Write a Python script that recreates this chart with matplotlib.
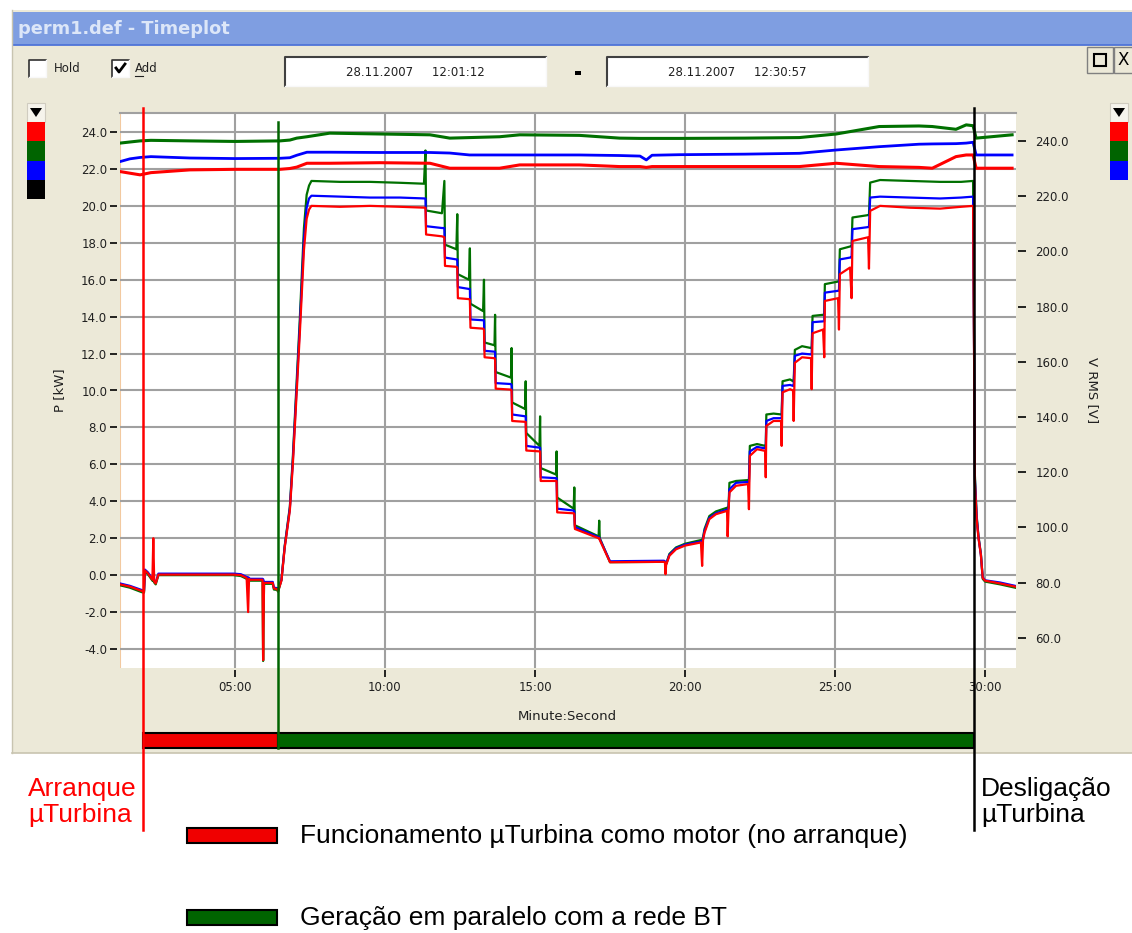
import matplotlib
matplotlib.use('Agg')
import matplotlib.pyplot as plt
from matplotlib.patches import Rectangle, Polygon
from matplotlib.lines import Line2D
from matplotlib.transforms import blended_transform_factory

# ---------------- data ----------------
# power traces (kW), time in minutes since 12:00:00
t_p = [1.17, 1.50, 1.89, 1.97, 2.00, 2.10, 2.25, 2.28, 2.31, 2.36, 2.45, 4.95, 5.20, 5.39, 5.44, 5.47,
       5.50, 5.92, 5.94, 5.97, 6.26, 6.30, 6.40, 6.44, 6.55, 6.66, 6.83, 6.93, 7.03, 7.16, 7.22, 7.30,
       7.39, 7.47, 7.55, 8.50, 9.50, 10.50, 11.30, 11.35, 11.37, 11.90, 11.98, 12.00, 12.38, 12.41,
       12.43, 12.80, 12.83, 12.85, 13.27, 13.30, 13.32, 13.65, 13.67, 13.69, 14.20, 14.22, 14.24,
       14.67, 14.69, 14.71, 15.15, 15.17, 15.19, 15.70, 15.72, 15.74, 16.29, 16.31, 16.33, 17.12,
       17.14, 17.16, 17.50, 19.30, 19.33, 19.35, 19.37, 19.48, 19.70, 20.00, 20.53, 20.57, 20.60,
       20.65, 20.81, 21.03, 21.40, 21.42, 21.45, 21.48, 21.70, 22.10, 22.13, 22.16, 22.40, 22.67,
       22.69, 22.71, 22.95, 23.20, 23.22, 23.25, 23.50, 23.60, 23.62, 23.66, 23.90, 24.20, 24.22,
       24.25, 24.60, 24.64, 24.66, 25.10, 25.13, 25.16, 25.50, 25.55, 25.58, 26.10, 26.13, 26.17,
       26.50, 27.50, 28.50, 29.20, 29.60, 29.66, 29.72, 29.78, 29.86, 29.92, 30.00, 30.50, 31.00]
p_red = [-0.50, -0.62, -0.85, -0.90, 0.25, 0.10, -0.25, 2.00, -0.35, -0.45, 0.03, 0.03, 0.00, -0.15, -2.00, -0.20,
         -0.25, -0.25, -4.60, -0.42, -0.42, -0.72, -0.75, -0.85, -0.30, 1.50, 3.50, 6.00, 9.00, 13.00, 15.00, 17.60,
         19.30, 19.80, 20.00, 19.95, 20.00, 19.95, 19.90, 19.90, 18.45, 18.35, 18.30, 16.75, 16.70, 16.65,
         15.00, 14.95, 14.90, 13.40, 13.35, 13.30, 11.80, 11.75, 11.70, 10.10, 10.05, 10.00, 8.35,
         8.30, 8.30, 6.75, 6.70, 6.70, 5.10, 5.10, 5.10, 3.40, 3.35, 3.30, 2.50, 2.00,
         2.00, 1.90, 0.70, 0.72, 0.70, 0.05, 0.55, 1.05, 1.40, 1.60, 1.77, 0.50, 1.90,
         2.30, 3.03, 3.30, 3.48, 2.10, 3.50, 4.48, 4.84, 4.93, 3.57, 6.46, 6.82, 6.73,
         5.30, 8.08, 8.35, 8.35, 7.00, 9.90, 10.07, 10.00, 8.35, 11.50, 11.80, 11.75, 10.07,
         13.10, 13.30, 11.80, 14.85, 15.00, 13.30, 16.30, 16.66, 15.00, 18.10, 18.30, 16.60, 19.73,
         20.00, 19.90, 19.85, 19.95, 20.00, 5.00, 3.00, 2.00, 1.10, -0.15, -0.30, -0.45, -0.62]
p_blue = [-0.45, -0.58, -0.80, -0.85, 0.30, 0.15, -0.20, -0.20, -0.30, -0.40, 0.08, 0.08, 0.05, -0.10, -0.12, -0.15,
          -0.20, -0.20, -0.22, -0.37, -0.37, -0.68, -0.70, -0.80, -0.25, 1.55, 3.60, 6.20, 9.30, 13.40, 15.50, 18.20,
          19.90, 20.40, 20.55, 20.50, 20.45, 20.45, 20.40, 20.40, 18.90, 18.80, 18.80, 17.20, 17.10, 17.10,
          15.60, 15.50, 15.50, 13.85, 13.80, 13.80, 12.15, 12.10, 12.10, 10.40, 10.35, 10.30, 8.70,
          8.60, 8.60, 7.00, 6.90, 6.90, 5.30, 5.25, 5.25, 3.60, 3.50, 3.45, 2.60, 2.05,
          2.05, 1.95, 0.75, 0.78, 0.75, 0.70, 0.60, 1.10, 1.45, 1.65, 1.82, 1.80, 1.95,
          2.40, 3.10, 3.35, 3.55, 3.55, 3.60, 4.65, 5.00, 5.05, 5.05, 6.70, 6.95, 6.86,
          6.86, 8.35, 8.50, 8.50, 8.50, 10.25, 10.30, 10.25, 10.25, 11.88, 12.00, 11.95, 11.95,
          13.70, 13.75, 13.75, 15.30, 15.40, 15.40, 17.10, 17.20, 17.20, 18.74, 18.85, 18.85, 20.45,
          20.50, 20.45, 20.40, 20.45, 20.50, 5.20, 3.10, 2.05, 1.10, -0.12, -0.28, -0.40, -0.58]
p_green = [-0.55, -0.68, -0.92, -0.95, 0.20, 0.05, -0.30, -0.30, -0.40, -0.50, 0.00, 0.00, -0.05, -0.20, -0.22, -0.25,
           -0.30, -0.30, -4.65, -0.47, -0.47, -0.78, -0.80, -0.90, -0.25, 1.60, 3.70, 6.40, 9.60, 13.80, 16.00, 18.80,
           20.60, 21.10, 21.35, 21.30, 21.30, 21.25, 21.20, 23.00, 19.75, 19.60, 21.35, 17.90, 17.65, 19.55,
           16.30, 16.00, 17.70, 14.70, 14.30, 16.00, 12.60, 12.45, 14.10, 11.00, 10.70, 12.30, 9.35,
           9.00, 10.50, 7.70, 7.00, 8.60, 5.80, 5.45, 6.70, 4.20, 3.60, 4.75, 2.70, 2.10,
           2.95, 2.00, 0.70, 0.72, 0.70, 0.60, 0.60, 1.15, 1.50, 1.70, 1.90, 1.90, 2.05,
           2.50, 3.20, 3.45, 3.65, 3.65, 3.70, 5.00, 5.10, 5.15, 5.15, 7.00, 7.10, 7.00,
           7.00, 8.70, 8.75, 8.70, 8.70, 10.50, 10.60, 10.50, 10.50, 12.20, 12.40, 12.30, 12.30,
           14.04, 14.10, 14.10, 15.76, 15.90, 15.90, 17.65, 17.80, 17.80, 19.37, 19.50, 19.50, 21.26,
           21.40, 21.35, 21.30, 21.30, 21.35, 5.40, 3.20, 2.10, 1.15, -0.20, -0.35, -0.50, -0.68]

# RMS voltage traces (V)
t_v = [1.17, 1.50, 1.84, 2.20, 3.50, 5.00, 6.50, 6.83, 7.06, 7.40, 8.16, 9.83, 11.50, 12.16, 12.82,
       13.82, 14.49, 16.48, 17.82, 18.50, 18.71, 18.90, 19.81, 22.00, 23.81, 25.04, 26.47, 27.80,
       28.24, 29.03, 29.37, 29.60, 29.70, 30.90]
v_red = [228.9, 228.3, 227.7, 228.5, 229.5, 229.7, 229.7, 230.0, 230.5, 231.9, 231.9, 232.1, 231.9, 230.1, 230.1,
         230.1, 231.3, 231.3, 230.7, 230.7, 230.4, 230.7, 230.7, 230.7, 230.7, 231.9, 230.7, 230.4,
         230.1, 234.3, 234.9, 234.9, 230.1, 230.1]
v_blue = [232.5, 233.5, 234.0, 234.3, 233.8, 233.6, 233.7, 233.9, 234.8, 235.9, 235.9, 235.8, 235.8, 235.6, 234.9,
          234.9, 234.9, 234.9, 234.7, 234.5, 233.1, 234.8, 235.0, 235.2, 235.5, 236.7, 237.9, 238.8,
          238.9, 239.0, 239.2, 239.5, 234.9, 234.9]
v_green = [239.2, 239.6, 240.0, 240.2, 240.0, 239.8, 240.0, 240.3, 241.0, 241.5, 242.8, 242.5, 242.2, 241.0, 241.2,
           241.5, 242.2, 242.0, 241.0, 240.9, 240.9, 240.9, 240.9, 241.0, 241.2, 242.5, 245.2, 245.4,
           245.2, 244.2, 245.8, 245.5, 241.0, 242.2]

events = [1.94, 6.43, 29.63]          # start, grid connection, shutdown (min)
p_ticks = [-4, -2, 0, 2, 4, 6, 8, 10, 12, 14, 16, 18, 20, 22, 24]
v_ticks = [60, 80, 100, 120, 140, 160, 180, 200, 220, 240]
x_ticks = [5, 10, 15, 20, 25, 30]
x_tick_labels = ['05:00', '10:00', '15:00', '20:00', '25:00', '30:00']

# ---------------- figure ----------------
W, H = 1132, 933
fig = plt.figure(figsize=(W / 100, H / 100), dpi=100)
fig.patch.set_facecolor('white')
BEIGE = '#ECE9D8'
RED = '#FF0000'
BLUE = '#0000FF'
GREEN = '#007000'


def FX(x):
    return x / W


def FY(y):
    return 1 - y / H


def frect(x0, y0, x1, y1, z=-5, **kw):
    r = Rectangle((FX(x0), FY(y1)), (x1 - x0) / W, (y1 - y0) / H,
                  transform=fig.transFigure, zorder=z, **kw)
    fig.add_artist(r)
    return r


def fline(xs, ys, z=-4, **kw):
    ln = Line2D([FX(x) for x in xs], [FY(y) for y in ys], transform=fig.transFigure, zorder=z, **kw)
    fig.add_artist(ln)
    return ln


# window
frect(12, 10, 1132, 753, z=-10, facecolor=BEIGE, edgecolor='none')
fline([12, 12], [10, 753], color='#C8C4B0', lw=1)
fline([12, 1132], [753, 753], color='#C8C4B0', lw=1.2)
# title bar
frect(13, 12, 1132, 45, z=-9, facecolor='#7F9EE1', edgecolor='none')
fline([13, 1132], [45, 45], z=-8, color='#4F74D8', lw=1.3)
fig.text(FX(18), FY(29), 'perm1.def - Timeplot', fontsize=12.8, fontweight='bold',
         color='#DCE6F8', va='center', ha='left', family='DejaVu Sans')


def checkbox(x0, y0, checked):
    frect(x0, y0, x0 + 17, y0 + 17, z=-3, facecolor='white', edgecolor='none')
    fline([x0, x0, x0 + 17], [y0 + 17, y0, y0], z=-2, color='#303030', lw=1.2)
    fline([x0, x0 + 17, x0 + 17], [y0 + 17, y0 + 17, y0], z=-2, color='#F8F8F8', lw=1)
    if checked:
        fline([x0 + 4, x0 + 7, x0 + 13], [y0 + 8, y0 + 12, y0 + 4], z=-1, color='black', lw=2)


checkbox(29, 60, False)
fig.text(FX(54), FY(69), 'Hold', fontsize=8.5, va='center', ha='left', color='#202020')
checkbox(112, 60, True)
fig.text(FX(135), FY(69), 'Add', fontsize=8.5, va='center', ha='left', color='#202020')
fline([135, 143], [76, 76], color='#202020', lw=0.8)


def datebox(x0, x1, text):
    frect(x0, 57, x1, 86, z=-3, facecolor='white', edgecolor='none')
    fline([x0, x0, x1], [86, 57, 57], z=-2, color='#404040', lw=1.5)
    fline([x0, x1, x1], [86, 86, 57], z=-2, color='#F8F8F8', lw=1)
    fig.text(FX((x0 + x1) / 2), FY(72), text, fontsize=8.5, va='center', ha='center', color='#202020')


datebox(285, 546, '28.11.2007     12:01:12')
datebox(607, 868, '28.11.2007     12:30:57')
frect(575, 71, 581, 75, z=-2, facecolor='black', edgecolor='none')

# window buttons
frect(1087, 47, 1113, 73, z=-3, facecolor=BEIGE, edgecolor='#808080', lw=1)
frect(1094, 54, 1106, 66, z=-2, facecolor='none', edgecolor='black', lw=1.5)
frect(1114, 47, 1140, 73, z=-3, facecolor=BEIGE, edgecolor='#808080', lw=1)
fig.text(FX(1118), FY(60), 'X', fontsize=12, va='center', ha='left', color='black')


def swatch_column(x0, x1, colors):
    frect(x0, 103, x1, 122, z=-3, facecolor='#F6F4EC', edgecolor='#D0CCC0', lw=0.8)
    tri = Polygon([(FX(x0 + 3), FY(108)), (FX(x1 - 3), FY(108)), (FX((x0 + x1) / 2), FY(117))],
                  closed=True, transform=fig.transFigure, facecolor='black', edgecolor='none', zorder=-2)
    fig.add_artist(tri)
    y = 122
    for c in colors:
        frect(x0, y, x1, y + 19.3, z=-2, facecolor=c, edgecolor='none')
        y += 19.3


swatch_column(27, 45, [RED, '#006400', BLUE, 'black'])
swatch_column(1110, 1128, [RED, '#006400', BLUE])

# ---------------- plot ----------------
ax = fig.add_axes([FX(120), FY(668), (1016 - 120) / W, (668 - 113) / H])
ax.set_facecolor('white')
ax.set_xlim(1.17, 31.03)
ax.set_ylim(-5.03, 25.03)
ax2 = ax.twinx()
ax2.set_ylim(49.1, 250.1)

ax.set_xticks(x_ticks)
ax.set_xticklabels(x_tick_labels)
ax.set_yticks(p_ticks)
ax.set_yticklabels(['%.1f' % v for v in p_ticks])
ax2.set_yticks(v_ticks)
ax2.set_yticklabels(['%.1f' % v for v in v_ticks])

ax.grid(True, color='#A0A0A0', lw=1.5)
ax.set_axisbelow(True)

for s in ['right', 'bottom']:
    ax.spines[s].set_visible(False)
    ax2.spines[s].set_visible(False)
ax.spines['top'].set_color('#A0A0A0')
ax.spines['top'].set_linewidth(1.5)
ax2.spines['top'].set_visible(False)
ax.spines['left'].set_position(('outward', 2.2))
ax.spines['left'].set_visible(False)
ax2.spines['left'].set_visible(False)
ax2.spines['right'].set_position(('outward', 1.5))
ax2.spines['bottom'].set_visible(False)
ax.spines['bottom'].set_position(('outward', 1.5))
ax.axvline(1.17, color='#F2C9A0', lw=1.5, zorder=0.5)

ax.tick_params(axis='y', direction='out', length=5, width=1.2, color='black', pad=2,
               labelsize=8.5, labelcolor='#202020')
ax.tick_params(axis='x', direction='out', length=5, width=1.2, color='black', pad=3,
               labelsize=8.5, labelcolor='#202020')
ax2.tick_params(axis='y', direction='out', length=5.5, width=1.2, color='black', pad=7,
                labelsize=8.5, labelcolor='#202020')

fig.text(FX(60), FY(390), 'P [kW]', fontsize=9.5, rotation=90, va='center', ha='center', color='#202020')
fig.text(FX(1092), FY(390), 'V RMS [V]', fontsize=9.5, rotation=270, va='center', ha='center', color='#202020')
fig.text(FX(567), FY(716), 'Minute:Second', fontsize=9.5, va='center', ha='center', color='#202020')

ax.plot(t_p, p_green, color=GREEN, lw=1.6, zorder=3)
ax.plot(t_p, p_blue, color=BLUE, lw=1.6, zorder=3)
ax.plot(t_p, p_red, color=RED, lw=1.6, zorder=3)
ax2.plot(t_v, v_green, color=GREEN, lw=2.2, zorder=3)
ax2.plot(t_v, v_blue, color=BLUE, lw=2.0, zorder=3)
ax2.plot(t_v, v_red, color=RED, lw=2.2, zorder=3)

# event markers (x in data, y in figure pixels)
tb = blended_transform_factory(ax2.transData, fig.transFigure)
ax2.plot([events[0]] * 2, [FY(108), FY(830)], color=RED, lw=1.8, transform=tb, clip_on=False, zorder=10)
ax2.plot([events[1]] * 2, [FY(122), FY(748)], color='#006400', lw=1.8, transform=tb, clip_on=False, zorder=10)
ax2.plot([events[2]] * 2, [FY(108), FY(830)], color='black', lw=1.8, transform=tb, clip_on=False, zorder=10)

ax2.add_patch(Rectangle((events[0], FY(748)), events[1] - events[0], (748 - 733) / H, transform=tb,
                        facecolor='#F00000', edgecolor='black', lw=1.5, clip_on=False, zorder=9))
ax2.add_patch(Rectangle((events[1], FY(748)), events[2] - events[1], (748 - 733) / H, transform=tb,
                        facecolor='#006400', edgecolor='black', lw=1.5, clip_on=False, zorder=9))

# annotations below
fam = ['Liberation Sans', 'DejaVu Sans']
fig.text(FX(137), FY(802), 'Arranque\n\u00b5Turbina', fontsize=19, color=RED, ha='right', va='center',
         multialignment='left', family=fam, linespacing=1.15)
fig.text(FX(981), FY(802), 'Desliga\u00e7\u00e3o\n\u00b5Turbina', fontsize=19, color='black', ha='left',
         va='center', family=fam, linespacing=1.15)
frect(187, 828, 277, 843, z=2, facecolor='#F00000', edgecolor='black', lw=1.5)
frect(187, 910, 277, 925, z=2, facecolor='#006400', edgecolor='black', lw=1.5)
fig.text(FX(300), FY(836), 'Funcionamento \u00b5Turbina como motor (no arranque)', fontsize=19,
         color='black', ha='left', va='center', family=fam)
fig.text(FX(300), FY(918), 'Gera\u00e7\u00e3o em paralelo com a rede BT', fontsize=19,
         color='black', ha='left', va='center', family=fam)

fig.savefig('out.png', dpi=100, facecolor='white')
